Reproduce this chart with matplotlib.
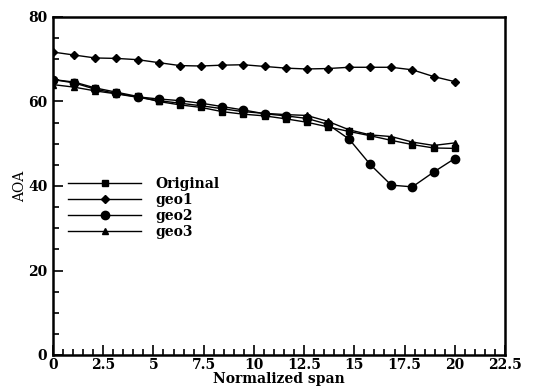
import matplotlib
matplotlib.use("Agg")
import matplotlib.pyplot as plt
from matplotlib.ticker import MultipleLocator

span = [0.0, 1.05, 2.11, 3.16, 4.21, 5.26, 6.32, 7.37, 8.42, 9.47,
        10.53, 11.58, 12.63, 13.68, 14.74, 15.79, 16.84, 17.89, 18.95, 20.0]

original = [65.2, 64.6, 63.2, 62.2, 61.2, 60.0, 59.2, 58.6, 57.6, 57.0,
            56.6, 55.9, 55.1, 54.0, 52.9, 51.9, 50.8, 49.8, 49.0, 48.9]
geo1 = [71.7, 71.0, 70.3, 70.2, 69.9, 69.2, 68.5, 68.4, 68.6, 68.7,
        68.3, 67.9, 67.7, 67.8, 68.1, 68.1, 68.1, 67.5, 65.9, 64.7]
geo2 = [65.2, 64.4, 62.9, 61.9, 61.1, 60.6, 60.2, 59.6, 58.8, 58.0,
        57.1, 56.6, 56.0, 54.6, 51.1, 45.1, 40.2, 39.8, 43.3, 46.5]
geo3 = [64.0, 63.4, 62.5, 61.8, 61.0, 60.2, 59.6, 59.0, 58.3, 57.6,
        57.2, 56.9, 56.7, 55.3, 53.3, 52.1, 51.7, 50.4, 49.6, 50.2]

series = [("Original", original, "s", 4.8),
          ("geo1", geo1, "D", 4.0),
          ("geo2", geo2, "o", 6.0),
          ("geo3", geo3, "^", 4.8)]

plt.rcParams["font.family"] = ["DejaVu Serif"]
plt.rcParams["font.weight"] = "bold"

fig = plt.figure(figsize=(5.49, 3.88), dpi=100)
ax = fig.add_axes([53 / 549, 1 - 355 / 388, 452 / 549, 338 / 388])

for name, vals, mk, ms in series:
    ax.plot(span, vals, color="black", lw=1.0, marker=mk, markersize=ms,
            label=name)

ax.set_xlim(0, 22.5)
ax.set_ylim(0, 80)
ax.xaxis.set_major_locator(MultipleLocator(2.5))
ax.xaxis.set_minor_locator(MultipleLocator(0.5))
ax.yaxis.set_major_locator(MultipleLocator(20))
ax.yaxis.set_minor_locator(MultipleLocator(5))
ax.xaxis.set_major_formatter(plt.FuncFormatter(lambda v, p: f"{v:g}"))

ax.tick_params(which="both", direction="in", top=False, right=False,
               width=1.2, labelsize=10)
ax.tick_params(axis="x", pad=2)
ax.tick_params(axis="y", pad=4)
ax.tick_params(which="major", length=7)
ax.tick_params(which="minor", length=4)
for lab in ax.get_xticklabels() + ax.get_yticklabels():
    lab.set_fontweight("bold")
for sp in ax.spines.values():
    sp.set_linewidth(1.8)

ax.set_xlabel("Normalized span", fontsize=10, fontweight="bold", labelpad=0)
ax.set_ylabel("AOA", fontsize=10, fontweight="normal", labelpad=1)

leg = ax.legend(loc="upper left", bbox_to_anchor=(0.005, 0.565), frameon=False,
                handlelength=5.3, handletextpad=1.0, labelspacing=0.15,
                prop={"family": "DejaVu Serif", "weight": "bold", "size": 10})

fig.savefig("out.png", dpi=100)
